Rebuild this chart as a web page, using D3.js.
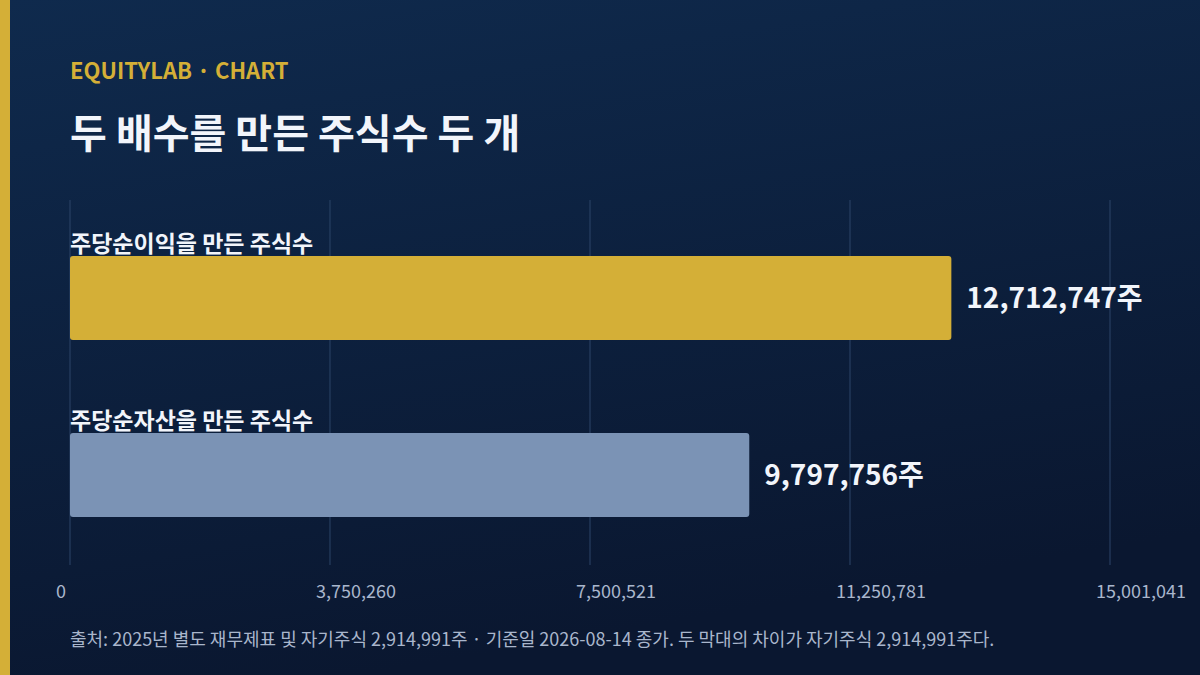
<!DOCTYPE html>
<html><head><meta charset="utf-8">
<script src="https://cdn.jsdelivr.net/npm/d3@7"></script>
<style>body{margin:0;background:#0b1a33}svg{display:block;font-family:"Noto Sans CJK KR","Noto Sans",sans-serif}</style>
</head><body><svg width="1200" height="675"></svg>
<script>
const categories = ["주당순이익을 만든 주식수", "주당순자산을 만든 주식수"];
const values = [12712747, 9797756];
const barColors = ["#d4af37", "#7b93b5"];
const tickValues = [0, 3750260, 7500521, 11250781, 15001041];

const svg = d3.select("svg");
const defs = svg.append("defs");
const grad = defs.append("linearGradient").attr("id", "bg").attr("x1", 0).attr("y1", 0).attr("x2", 0.3).attr("y2", 1);
grad.append("stop").attr("offset", "0%").attr("stop-color", "#0f2a4d");
grad.append("stop").attr("offset", "100%").attr("stop-color", "#0a1730");
svg.append("rect").attr("width", 1200).attr("height", 675).attr("fill", "url(#bg)");
svg.append("rect").attr("width", 10).attr("height", 675).attr("fill", "#d4af37");

svg.append("text").attr("x", 70).attr("y", 79).attr("fill", "#d4af37")
  .attr("font-size", 22).attr("font-weight", 700).text("EQUITYLAB · CHART");
svg.append("text").attr("x", 70).attr("y", 148).attr("fill", "#f2f5fb")
  .attr("font-size", 40).attr("font-weight", 700).text("두 배수를 만든 주식수 두 개");

const x = d3.scaleLinear().domain([0, 15001041]).range([70, 1110]);
const y = d3.scaleBand().domain(categories).range([200, 565]).paddingInner(0.5).paddingOuter(0.3);
// y bands: we place bars at explicit offsets derived from scale
const rowTop = d3.scalePoint().domain(categories).range([256, 433]);

svg.append("g").selectAll("line").data(tickValues).join("line")
  .attr("x1", d => x(d)).attr("x2", d => x(d)).attr("y1", 200).attr("y2", 565)
  .attr("stroke", "#2c4568").attr("stroke-width", 1);

svg.append("g").selectAll("text").data(tickValues).join("text")
  .attr("x", d => x(d) - 14).attr("y", 598).attr("fill", "#a9b6cc")
  .attr("font-size", 18).text(d => d3.format(",")(d));

const rows = categories.map((c, i) => ({c, v: values[i], color: barColors[i]}));

svg.append("g").selectAll("text").data(rows).join("text")
  .attr("x", 70).attr("y", d => rowTop(d.c) - 4).attr("fill", "#f2f5fb")
  .attr("font-size", 23).attr("font-weight", 700).text(d => d.c);

svg.append("g").selectAll("rect").data(rows).join("rect")
  .attr("x", x(0)).attr("y", d => rowTop(d.c)).attr("width", d => x(d.v) - x(0))
  .attr("height", 84).attr("rx", 3).attr("fill", d => d.color);

svg.append("g").selectAll("text").data(rows).join("text")
  .attr("x", d => x(d.v) + 15).attr("y", d => rowTop(d.c) + 42).attr("dy", "0.36em")
  .attr("fill", "#f2f5fb").attr("font-size", 28).attr("font-weight", 700)
  .text(d => d3.format(",")(d.v) + "주");

svg.append("text").attr("x", 70).attr("y", 646).attr("fill", "#a9b6cc").attr("font-size", 18)
  .text("출처: 2025년 별도 재무제표 및 자기주식 2,914,991주 · 기준일 2026-08-14 종가. 두 막대의 차이가 자기주식 2,914,991주다.");
</script></body></html>
